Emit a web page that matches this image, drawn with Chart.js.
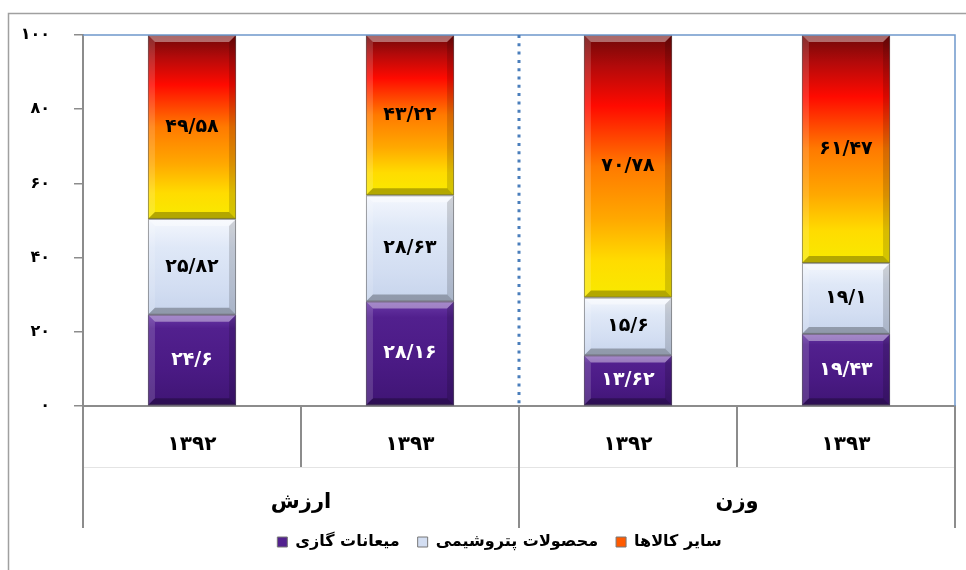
<!DOCTYPE html>
<html>
<head>
<meta charset="utf-8">
<script src="https://cdn.jsdelivr.net/npm/chart.js@4.4.1/dist/chart.umd.min.js"></script>
<style>
  html, body { margin: 0; padding: 0; background: #fff; }
  #wrap { width: 966px; height: 570px; }
</style>
</head>
<body>
<div id="wrap"><canvas id="c" width="966" height="570"></canvas></div>
<script>
// داده‌ها
const categories = ['۱۳۹۲', '۱۳۹۳', '۱۳۹۲', '۱۳۹۳'];
const groups = ['ارزش', 'وزن'];
const seriesNames = ['میعانات گازی', 'محصولات پتروشیمی', 'سایر کالاها'];
const condensate = [24.6, 28.16, 13.62, 19.43];
const petrochem = [25.82, 28.63, 15.6, 19.1];
const otherGoods = [49.58, 43.22, 70.78, 61.47];
const yMax = 100;
const yStep = 20;

const FONT = "'DejaVu Sans', sans-serif";
const legendColors = ['#52218e', '#d3def2', '#ff5a00'];

function fa(v) {
    return String(v).replace('.', '/').replace(/\d/g, d => '۰۱۲۳۴۵۶۷۸۹'[d]);
}

// gradient for each stacked segment
function segFill(stops, solid) {
    return (c) => {
        if (c.type !== 'data') return solid;
        const chart = c.chart;
        const ya = chart.scales.y;
        if (!ya) return solid;
        const i = c.dataIndex;
        let base = 0;
        for (let d = 0; d < c.datasetIndex; d++) base += chart.data.datasets[d].data[i];
        const top = ya.getPixelForValue(base + chart.data.datasets[c.datasetIndex].data[i]);
        const bottom = ya.getPixelForValue(base);
        if (!isFinite(top) || !isFinite(bottom) || top === bottom) return solid;
        const g = chart.ctx.createLinearGradient(0, top, 0, bottom);
        stops.forEach(s => g.addColorStop(s[0], s[1]));
        return g;
    };
}

const purpleStops = [[0, '#6a3aa8'], [0.15, '#52208e'], [0.6, '#4a1a84'], [1, '#3f1574']];
const lightStops = [[0, '#f4f7fd'], [0.3, '#dfe8f7'], [0.7, '#d3def2'], [1, '#c7d4ec']];
const hotStops = [[0, '#6e0808'], [0.12, '#b30a0a'], [0.27, '#ff0a00'], [0.5, '#ff7a00'], [0.7, '#ffa800'], [0.86, '#ffdc00'], [1, '#f8ea00']];

// bevel + value labels
const barDecor = {
    id: 'barDecor',
    afterDatasetsDraw(chart) {
        const ctx = chart.ctx;
        chart.data.datasets.forEach((ds, di) => {
            const meta = chart.getDatasetMeta(di);
            meta.data.forEach((el, i) => {
                const p = el.getProps(['x', 'y', 'base', 'width'], true);
                const l = p.x - p.width / 2, r = p.x + p.width / 2;
                const t = Math.min(p.y, p.base), b = Math.max(p.y, p.base);
                const k = 7;
                ctx.save();
                ctx.fillStyle = 'rgba(255,255,255,0.4)';
                ctx.beginPath(); ctx.moveTo(l, t); ctx.lineTo(r, t); ctx.lineTo(r - k, t + k); ctx.lineTo(l + k, t + k); ctx.fill();
                ctx.fillStyle = 'rgba(255,255,255,0.15)';
                ctx.beginPath(); ctx.moveTo(l, t); ctx.lineTo(l + k, t + k); ctx.lineTo(l + k, b - k); ctx.lineTo(l, b); ctx.fill();
                ctx.fillStyle = 'rgba(0,0,0,0.15)';
                ctx.beginPath(); ctx.moveTo(r, t); ctx.lineTo(r, b); ctx.lineTo(r - k, b - k); ctx.lineTo(r - k, t + k); ctx.fill();
                ctx.fillStyle = 'rgba(0,0,0,0.28)';
                ctx.beginPath(); ctx.moveTo(l, b); ctx.lineTo(l + k, b - k); ctx.lineTo(r - k, b - k); ctx.lineTo(r, b); ctx.fill();
                ctx.strokeStyle = 'rgba(90,90,90,0.55)';
                ctx.lineWidth = 1;
                ctx.strokeRect(l + 0.5, t + 0.5, r - l - 1, b - t - 1);

                ctx.font = 'bold 19px ' + FONT;
                ctx.fillStyle = di === 0 ? '#ffffff' : '#000000';
                ctx.textAlign = 'center';
                ctx.textBaseline = 'middle';
                ctx.fillText(fa(ds.data[i]), p.x, (t + b) / 2);
                ctx.restore();
            });
        });
    }
};

// frame, group labels, dividers
const frame = {
    id: 'frame',
    afterLayout(chart) {
        // legend sits a little right of the canvas centre
        if (chart.legend) { chart.legend.left += 22; chart.legend.right += 22; }
    },
    beforeDraw(chart) {
        const ctx = chart.ctx;
        ctx.save();
        ctx.strokeStyle = '#a0a0a0';
        ctx.lineWidth = 1.5;
        ctx.beginPath(); ctx.moveTo(8.5, 600); ctx.lineTo(8.5, 13.5); ctx.lineTo(970, 13.5); ctx.stroke();
        ctx.restore();
    },
    afterDraw(chart) {
        const ctx = chart.ctx;
        const x = chart.scales.x, y = chart.scales.y;
        const half = (x.getPixelForValue(1) - x.getPixelForValue(0)) / 2;
        ctx.save();
        // plot border top/right
        ctx.strokeStyle = '#6f98cc';
        ctx.lineWidth = 1.5;
        ctx.beginPath(); ctx.moveTo(x.left, y.top); ctx.lineTo(x.right, y.top); ctx.lineTo(x.right, y.bottom); ctx.stroke();
        // faint row line
        ctx.strokeStyle = '#e4e4e4';
        ctx.lineWidth = 1;
        ctx.beginPath(); ctx.moveTo(x.left, y.bottom + 61.5); ctx.lineTo(x.right, y.bottom + 61.5); ctx.stroke();
        // dividers
        ctx.strokeStyle = '#8c8c8c';
        ctx.lineWidth = 2;
        for (let i = 0; i <= categories.length; i++) {
            const bx = i < categories.length ? x.getPixelForValue(i) - half : x.getPixelForValue(i - 1) + half;
            const len = i % 2 === 0 ? 122 : 61;
            ctx.beginPath(); ctx.moveTo(bx, y.bottom); ctx.lineTo(bx, y.bottom + len); ctx.stroke();
        }
        // dotted separator between groups
        const mid = x.getPixelForValue(2) - half;
        ctx.strokeStyle = '#4a7ebb';
        ctx.lineWidth = 3;
        ctx.setLineDash([3, 5.3]);
        ctx.beginPath(); ctx.moveTo(mid, y.top); ctx.lineTo(mid, y.bottom); ctx.stroke();
        ctx.setLineDash([]);
        // group labels
        ctx.font = 'bold 21px ' + FONT;
        ctx.fillStyle = '#000';
        ctx.textAlign = 'center';
        ctx.textBaseline = 'middle';
        groups.forEach((g, gi) => {
            const cx = (x.getPixelForValue(gi * 2) + x.getPixelForValue(gi * 2 + 1)) / 2;
            ctx.fillText(g, cx, y.bottom + 97);
        });
        ctx.restore();
    }
};

new Chart(document.getElementById('c'), {
    type: 'bar',
    data: {
        labels: categories,
        datasets: [
            { label: seriesNames[0], data: condensate, backgroundColor: segFill(purpleStops, legendColors[0]) },
            { label: seriesNames[1], data: petrochem, backgroundColor: segFill(lightStops, legendColors[1]) },
            { label: seriesNames[2], data: otherGoods, backgroundColor: segFill(hotStops, legendColors[2]) }
        ]
    },
    options: {
        responsive: false,
        animation: false,
        layout: { padding: { left: 0, right: 11, top: 35, bottom: 10 } },
        datasets: { bar: { categoryPercentage: 1, barPercentage: 0.404, borderWidth: 0 } },
        scales: {
            x: {
                stacked: true,
                grid: { display: false },
                border: { display: true, color: '#8c8c8c', width: 2 },
                ticks: { color: '#000', font: { family: FONT, size: 20, weight: 'bold' }, padding: 19, maxRotation: 0 },
                afterFit(s) { s.height = 110; }
            },
            y: {
                stacked: true,
                min: 0,
                max: yMax,
                grid: { drawOnChartArea: false, color: '#8c8c8c', tickLength: 9, lineWidth: 1.5 },
                border: { display: true, color: '#8c8c8c', width: 2 },
                ticks: {
                    stepSize: yStep,
                    color: '#000',
                    padding: 24,
                    font: { family: FONT, size: 16, weight: 'bold' },
                    callback: v => fa(v)
                },
                afterFit(s) { s.width = 83; }
            }
        },
        plugins: {
            legend: {
                position: 'bottom',
                labels: {
                    color: '#000',
                    boxWidth: 10,
                    boxHeight: 10,
                    padding: 18,
                    font: { family: FONT, size: 16, weight: 'bold' },
                    generateLabels(chart) {
                        const items = Chart.defaults.plugins.legend.labels.generateLabels(chart);
                        items.forEach((it, i) => {
                            it.fillStyle = legendColors[i];
                            it.strokeStyle = '#777';
                            it.lineWidth = 1;
                        });
                        return items;
                    }
                }
            },
            tooltip: { enabled: false }
        }
    },
    plugins: [barDecor, frame]
});
</script>
</body>
</html>
